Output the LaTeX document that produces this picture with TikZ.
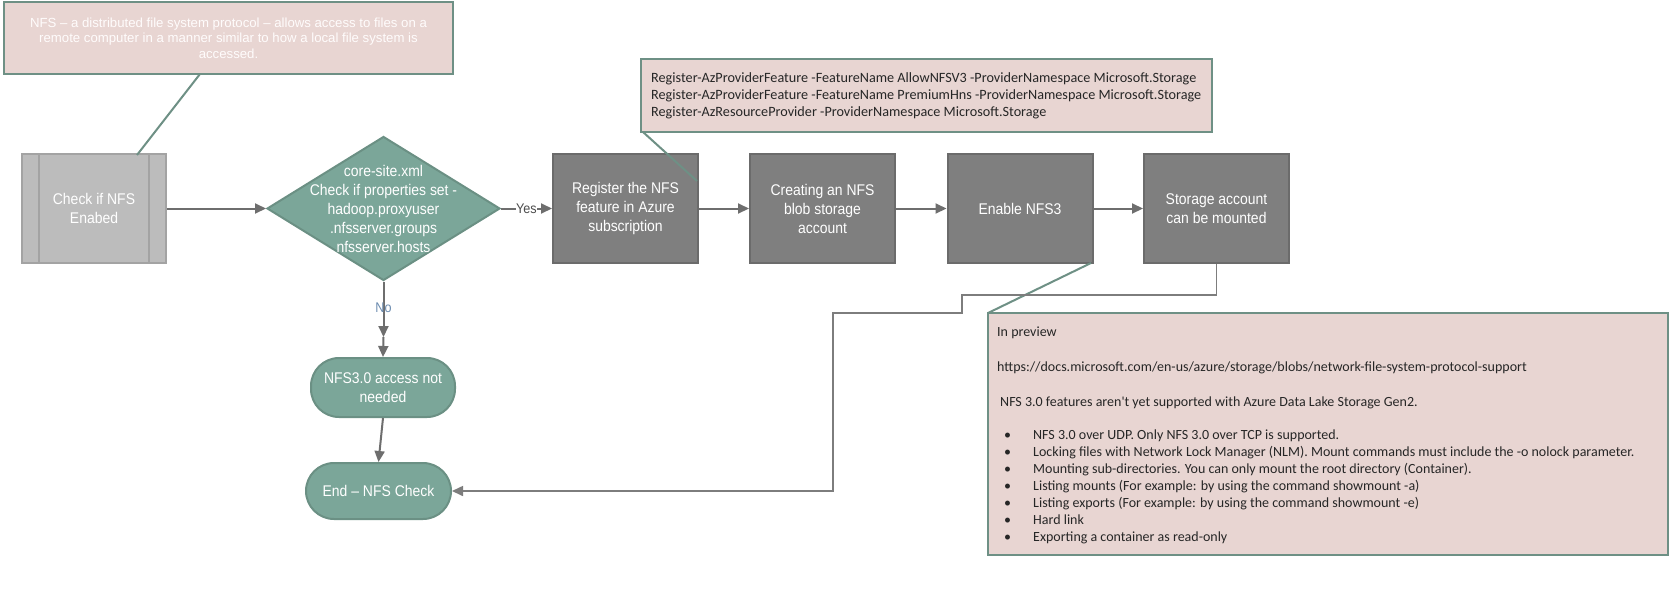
\documentclass[tikz,border=0pt]{standalone}
\usepackage{fontspec}
\setmainfont{Liberation Sans}
\newfontfamily\boxfont[FakeStretch=0.9]{Liberation Sans}
\newfontfamily\calfont{Carlito}
\usetikzlibrary{shapes.geometric,arrows.meta}
\definecolor{tealfill}{HTML}{7BA699}
\definecolor{tealline}{HTML}{6B9084}
\definecolor{pinkfill}{HTML}{E8D5D2}
\definecolor{calline}{HTML}{6E9085}
\definecolor{boxfill}{HTML}{7F7F7F}
\definecolor{boxline}{HTML}{6B6B6B}
\definecolor{chkfill}{HTML}{BCBCBC}
\definecolor{chkline}{HTML}{A3A3A3}
\definecolor{connc}{HTML}{6E6E6E}
\definecolor{nocol}{HTML}{6C8CB0}
\begin{document}
\begin{tikzpicture}[x=1pt,y=-1pt,
  boxtxt/.style={text=white,font=\boxfont\fontsize{15.5}{19}\selectfont,align=center},
  graybox/.style={boxtxt,draw=boxline,fill=boxfill,line width=2pt,minimum width=145pt,minimum height=109pt,inner sep=2pt},
  chkbox/.style={boxtxt,draw=chkline,fill=chkfill,line width=2pt,minimum width=144pt,minimum height=109pt},
  decision/.style={diamond,draw=tealline,fill=tealfill,line width=2pt,minimum width=233pt,minimum height=144pt,inner sep=0pt},
  term/.style={boxtxt,draw=tealline,fill=tealfill,line width=2pt,rounded corners=28pt,inner sep=2pt},
  callout/.style={draw=calline,fill=pinkfill,line width=2.5pt},
  pointer/.style={draw=calline,line width=2pt},
  conn/.style={draw=connc,line width=2pt,-{Triangle[length=11pt,width=10pt]}},
  conntwo/.style={draw=connc!90,line width=1.6pt,-{Triangle[length=11pt,width=10pt]}},
  lbl/.style={font=\boxfont\fontsize{14}{16}\selectfont,inner sep=0.5pt},
  caltxt/.style={inner sep=0pt,align=left,text=black!85}
]
\useasboundingbox (0,0) rectangle (1674,592);
\fill[white] (0,0) rectangle (1674,592);

% top-left callout
\node[callout,minimum width=449pt,minimum height=72pt,align=center,text=white!96!pink,
  font=\fontsize{13.2}{15.6}\selectfont] (c1) at (228.5,38)
  {NFS – a distributed file system protocol – allows access to files on a\\
   remote computer in a manner similar to how a local file system is\\
   accessed.};

% check box
\node[chkbox] (chk) at (94,208.5) {Check if NFS\\Enabed};
\draw[chkline,line width=2pt] ([xshift=18pt]chk.north west) -- ([xshift=18pt]chk.south west);
\draw[chkline,line width=2pt] ([xshift=-18pt]chk.north east) -- ([xshift=-18pt]chk.south east);

\coordinate (p1a) at (200,74);
\coordinate (p1b) at (137,155);
\draw[pointer] (p1a) -- (p1b);

% decision
\node[decision] (d) at (383.5,208.5) {};
\node[boxtxt] (dt) at (383.5,209) {core-site.xml\\Check if properties set -\\hadoop.proxyuser\\.nfsserver.groups\\nfsserver.hosts};

% process boxes
\node[graybox] (reg) at (625.5,208.5) {Register the NFS\\feature in Azure\\subscription};
\node[graybox] (cre) at (822.5,208.5) {Creating an NFS\\blob storage\\account};
\node[graybox] (ena) at (1020,208.5) {Enable NFS3};
\node[graybox] (sto) at (1216.5,208.5) {Storage account\\can be mounted};

% terminals
\node[term,minimum width=144pt,minimum height=59pt] (na) at (383,387.5) {NFS3.0 access not\\needed};
\node[term,minimum width=145pt,minimum height=56pt] (end) at (378.5,491) {End – NFS Check};

% command callout
\node[callout,minimum width=571pt,minimum height=73pt] (c2) at (926.5,95.5) {};
\node[caltxt,anchor=west,font=\calfont\fontsize{14.2}{17}\selectfont] (c2t) at (651,96)
  {Register-AzProviderFeature -FeatureName AllowNFSV3 -ProviderNamespace Microsoft.Storage\\
   Register-AzProviderFeature -FeatureName PremiumHns -ProviderNamespace Microsoft.Storage\\
   Register-AzResourceProvider -ProviderNamespace Microsoft.Storage};
\coordinate (p2a) at (643,132);
\coordinate (p2b) at (697,181);
\draw[pointer] (p2a) -- (p2b);

% preview callout
\node[callout,minimum width=680pt,minimum height=242pt] (c3) at (1328,434) {};
\node[caltxt,anchor=north west,font=\calfont\fontsize{14}{17}\selectfont] (c3t) at (997,327)
  {In preview\\[17.5pt]
   https://docs.microsoft.com/en-us/azure/storage/blobs/network-file-system-protocol-support\\[18pt]
   \hspace*{3pt}NFS 3.0 features aren't yet supported with Azure Data Lake Storage Gen2.\\[16pt]
   \hspace*{7pt}\makebox[29pt][l]{•}NFS 3.0 over UDP. Only NFS 3.0 over TCP is supported.\\
   \hspace*{7pt}\makebox[29pt][l]{•}Locking files with Network Lock Manager (NLM). Mount commands must include the -o nolock parameter.\\
   \hspace*{7pt}\makebox[29pt][l]{•}Mounting sub-directories. You can only mount the root directory (Container).\\
   \hspace*{7pt}\makebox[29pt][l]{•}Listing mounts (For example: by using the command showmount -a)\\
   \hspace*{7pt}\makebox[29pt][l]{•}Listing exports (For example: by using the command showmount -e)\\
   \hspace*{7pt}\makebox[29pt][l]{•}Hard link\\
   \hspace*{7pt}\makebox[29pt][l]{•}Exporting a container as read-only};
\coordinate (p3a) at (988,313);
\coordinate (p3b) at (1091,263);
\draw[pointer] (p3a) -- (p3b);

% connectors
\draw[conn] (chk.east) -- (d.west);
\draw[conn] (d.east) -- (reg.west) node[lbl,pos=0.5,fill=white,text=black!70] {Yes};
\draw[conn] (reg.east) -- (cre.west);
\draw[conn] (cre.east) -- (ena.west);
\draw[conn] (ena.east) -- (sto.west);
\coordinate (nomid) at (383.5,337);
\draw[conn] (d.south) -- (nomid);
\draw[conn] (nomid) -- (na.north);
\node[lbl,text=nocol] (nolbl) at (383.5,308) {No};
\draw[conn] (na.south) -- (end.north);
\draw[conntwo] (sto.south) |- (962,295) |- (833,313) |- (end.east);
\end{tikzpicture}
\end{document}
